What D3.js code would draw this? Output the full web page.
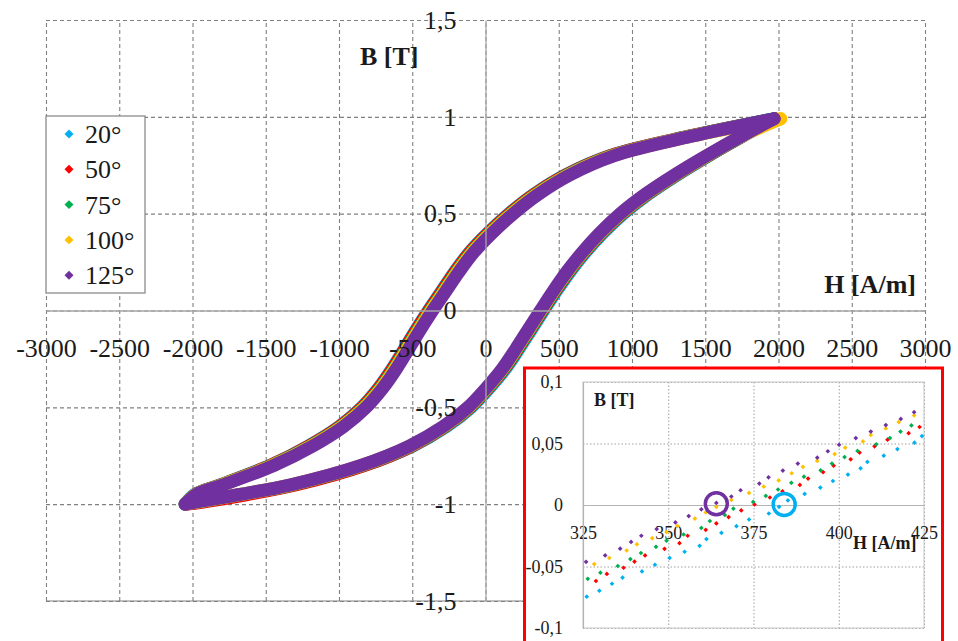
<!DOCTYPE html>
<html>
<head>
<meta charset="utf-8">
<script src="https://cdn.jsdelivr.net/npm/d3@7"></script>
<style>
  body { margin: 0; background: #fff; }
  text { font-family: "Liberation Serif", "DejaVu Serif", serif; fill: #1a1a1a; }
</style>
</head>
<body>
<svg id="chart" width="958" height="641"></svg>
<script>
// series names + colours (Excel palette)
var series = ["20°", "50°", "75°", "100°", "125°"];
var colors = ["#00b0f0", "#ff0000", "#00b050", "#ffc000", "#7030a0"];

// main loop: B levels of the two branches
var bDown = [0.99, 0.9, 0.8, 0.7, 0.6, 0.5, 0.4, 0.3, 0.2, 0.1, 0,
             -0.1, -0.2, -0.3, -0.4, -0.5, -0.6, -0.7, -0.8, -0.9, -0.95, -1.0];
var bUp = [-1.0, -0.99, -0.95, -0.9, -0.8, -0.7, -0.6, -0.5, -0.4, -0.3, -0.2, -0.1, 0,
           0.1, 0.2, 0.3, 0.4, 0.5, 0.6, 0.7, 0.8, 0.9, 0.99];

// H [A/m] of each series at those B levels (falling branch)
var hDown20  = [1970, 1390, 850, 545, 330, 160, 15, -110, -210, -300, -390, -475, -555, -637, -730, -845, -1000, -1210, -1470, -1810, -1985, -2050];
var hDown50  = [1975, 1392, 854, 549, 334, 164, 19, -106, -206, -296, -386, -471, -551, -633, -726, -841, -996, -1206, -1468, -1806, -1982, -2040];
var hDown75  = [1970, 1398, 864, 559, 344, 174, 29, -96, -196, -286, -376, -461, -541, -623, -716, -831, -986, -1196, -1460, -1800, -1980, -2050];
var hDown100 = [2015, 1402, 870, 565, 350, 180, 35, -90, -190, -280, -370, -455, -535, -617, -710, -825, -980, -1190, -1455, -1797, -1978, -2050];
var hDown125 = [1970, 1406, 880, 575, 360, 190, 45, -80, -180, -270, -360, -445, -525, -607, -700, -815, -970, -1180, -1445, -1790, -1975, -2050];

// rising branch
var hUp20  = [-2050, -1972, -1665, -1310, -828, -498, -268, -98, 27, 137, 227, 312, 397, 484, 577, 682, 802, 942, 1110, 1308, 1525, 1755, 1970];
var hUp50  = [-2040, -1940, -1625, -1290, -825, -503, -276, -106, 19, 129, 219, 304, 389, 476, 569, 674, 794, 934, 1103, 1302, 1520, 1752, 1975];
var hUp75  = [-2050, -1975, -1672, -1320, -841, -511, -281, -111, 14, 124, 214, 299, 384, 471, 564, 669, 789, 929, 1098, 1298, 1517, 1750, 1970];
var hUp100 = [-2050, -1978, -1677, -1326, -846, -516, -286, -116, 9, 119, 209, 294, 379, 466, 559, 664, 784, 924, 1094, 1294, 1514, 1748, 2015];
var hUp125 = [-2050, -1980, -1680, -1330, -850, -520, -290, -120, 5, 115, 205, 290, 375, 462, 555, 660, 780, 920, 1090, 1290, 1510, 1745, 1970];

// inset (zoom near B = 0 on the rising branch): [H, B]
var zoom20 = [[326.1,-0.0745],[329.8,-0.0697],[333.5,-0.064],[336.6,-0.059],[342.3,-0.054],[346.1,-0.0486],[350.4,-0.043],[354.8,-0.038],[359.2,-0.0332],[361.2,-0.0277],[365.6,-0.0226],[370,-0.0172],[373.7,-0.0118],[379.5,-0.0069],[382.5,-0.0015],[385.1,0.0037],[390,0.009],[394.6,0.0142],[398.3,0.0195],[402.7,0.0247],[406.4,0.0298],[408.4,0.035],[413.2,0.0401],[417.2,0.0455],[422.2,0.0507],[424.4,0.056]];
var zoom50 = [[328.8,-0.0618],[332,-0.056],[336.9,-0.051],[340.1,-0.046],[343.2,-0.041],[348.9,-0.0356],[353.3,-0.031],[355.7,-0.025],[361,-0.0202],[364.1,-0.015],[367.7,-0.0098],[371.4,-0.0044],[375.3,0.0004],[379.8,0.0061],[383.5,0.0112],[388.6,0.0163],[391,0.0215],[395.4,0.0268],[398.5,0.032],[403.5,0.0371],[406.1,0.0426],[410.5,0.0477],[414.3,0.0531],[420.5,0.0584],[423.7,0.0634]];
var zoom75 = [[326.4,-0.06],[330.1,-0.055],[335.2,-0.0496],[338.9,-0.044],[342,-0.039],[346.4,-0.034],[349.5,-0.029],[354.5,-0.024],[359.7,-0.0186],[362.2,-0.013],[366.6,-0.0081],[369.1,-0.003],[374.9,0.0025],[378.6,0.0074],[382.2,0.0126],[386.1,0.018],[389.8,0.023],[394.7,0.0282],[398,0.0337],[401.7,0.039],[405.5,0.044],[411,0.0493],[415,0.0544],[418.1,0.0597],[421.3,0.0647]];
var zoom100 = [[328.3,-0.048],[332.7,-0.043],[337.8,-0.037],[340.8,-0.032],[345.3,-0.027],[349.5,-0.022],[352.7,-0.017],[357.8,-0.011],[361,-0.006],[364.1,-0.0015],[368.5,0.0041],[373.7,0.0098],[378,0.015],[382.4,0.02],[386.2,0.0258],[389.5,0.031],[393.7,0.0358],[398.8,0.0414],[401.9,0.0466],[407.1,0.0517],[409.4,0.057],[413.8,0.0622],[417.6,0.0674],[422.1,0.0728]];
var zoom125 = [[325.9,-0.0462],[331.5,-0.041],[335.9,-0.0355],[339.1,-0.03],[342.1,-0.025],[346.6,-0.0196],[352.1,-0.0142],[356,-0.009],[359.7,-0.0035],[364.1,0.0017],[368.5,0.0069],[371.2,0.012],[376.7,0.0174],[379.4,0.0225],[383.6,0.028],[388,0.0337],[393.7,0.0385],[396.8,0.0437],[400.1,0.049],[405,0.0544],[409.4,0.0597],[413.8,0.065],[418.2,0.07],[422.1,0.0755]];

// circled zero crossings in the inset: [H, B, series index]
var marked = [[364.1, 0.001, 4], [384, 0.0005, 0]];

// tick labels
var xTicks = [-3000, -2500, -2000, -1500, -1000, -500, 0, 500, 1000, 1500, 2000, 2500, 3000];
var yTicks = [-1.5, -1, -0.5, 0, 0.5, 1, 1.5];
var xTicksZoom = [325, 350, 375, 400, 425];
var yTicksZoom = [-0.1, -0.05, 0, 0.05, 0.1];

var hDown = [hDown20, hDown50, hDown75, hDown100, hDown125];
var hUp = [hUp20, hUp50, hUp75, hUp100, hUp125];
var zoomPts = [zoom20, zoom50, zoom75, zoom100, zoom125];

var comma = function(d) { return String(d).replace(".", ","); };

var svg = d3.select("#chart");
var plot = {left: 46, right: 925, top: 20, bottom: 601};

var x = d3.scaleLinear().domain([-3000, 3000]).range([plot.left, plot.right]);
var y = d3.scaleLinear().domain([-1.5, 1.5]).range([plot.bottom, plot.top]);

// dashed grid
svg.append("g")
  .attr("transform", "translate(0," + plot.bottom + ")")
  .call(d3.axisBottom(x).tickValues(xTicks).tickSize(-(plot.bottom - plot.top)).tickFormat(""))
  .call(function(g) { g.select(".domain").remove(); })
  .selectAll("line").attr("stroke", "#808080").attr("stroke-width", 1.1).attr("stroke-dasharray", "4,3");
svg.append("g")
  .attr("transform", "translate(" + plot.left + ",0)")
  .call(d3.axisLeft(y).tickValues(yTicks).tickSize(-(plot.right - plot.left)).tickFormat(""))
  .call(function(g) { g.select(".domain").remove(); })
  .selectAll("line").attr("stroke", "#808080").attr("stroke-width", 1.1).attr("stroke-dasharray", "4,3");
svg.append("line")
  .attr("x1", plot.left).attr("x2", plot.right)
  .attr("y1", plot.bottom).attr("y2", plot.bottom)
  .attr("stroke", "#808080").attr("stroke-width", 1.2);

// axes through the origin
var xAxis = svg.append("g")
  .attr("transform", "translate(0," + y(0) + ")")
  .call(d3.axisBottom(x).tickValues(xTicks).tickSize(0).tickSizeOuter(0).tickPadding(28).tickFormat(comma));
var yAxis = svg.append("g")
  .attr("transform", "translate(" + x(0) + ",0)")
  .call(d3.axisLeft(y).tickValues(yTicks).tickSize(0).tickSizeOuter(0).tickPadding(29).tickFormat(comma));
[xAxis, yAxis].forEach(function(g) {
  g.select(".domain").attr("stroke", "#a6a6a6").attr("stroke-width", 1.3);
  g.selectAll("text").attr("font-size", 26).attr("font-family", "Liberation Serif").attr("fill", "#1a1a1a");
});

// hysteresis loops
var line = d3.line()
  .x(function(d) { return x(d[0]); })
  .y(function(d) { return y(d[1]); })
  .curve(d3.curveCatmullRom.alpha(0.5));

var loops = svg.append("g");
series.forEach(function(s, i) {
  var down = hDown[i].map(function(h, k) { return [h, bDown[k]]; });
  var up = hUp[i].map(function(h, k) { return [h, bUp[k]]; });
  [down, up].forEach(function(branch) {
    loops.append("path")
      .datum(branch)
      .attr("d", line)
      .attr("fill", "none")
      .attr("stroke", colors[i])
      .attr("stroke-width", 13)
      .attr("stroke-linecap", "round")
      .attr("stroke-linejoin", "round");
  });
});

// bring labels above the loops
svg.node().appendChild(xAxis.node());
svg.node().appendChild(yAxis.node());

// axis titles
svg.append("text").attr("x", 360).attr("y", 65)
  .attr("font-size", 26).attr("font-weight", "bold").text("B [T]");
svg.append("text").attr("x", 916).attr("y", 293).attr("text-anchor", "end")
  .attr("font-size", 26).attr("font-weight", "bold").text("H [A/m]");

// legend
var legend = svg.append("g").attr("transform", "translate(46,116)");
legend.append("rect").attr("width", 99).attr("height", 177)
  .attr("fill", "#fff").attr("stroke", "#8c8c8c").attr("stroke-width", 1.3);
var diamond = d3.symbol().type(d3.symbolSquare);
series.forEach(function(s, i) {
  var row = legend.append("g").attr("transform", "translate(0," + (18 + i * 35.3) + ")");
  row.append("path").attr("d", diamond.size(40)())
    .attr("transform", "translate(23,0) rotate(45)").attr("fill", colors[i]);
  row.append("text").attr("x", 39).attr("y", 9).attr("font-size", 26).text(s);
});

// inset
var inset = svg.append("g");
inset.append("rect").attr("x", 524.5).attr("y", 368).attr("width", 418).attr("height", 300)
  .attr("fill", "#fff").attr("stroke", "#ff0000").attr("stroke-width", 3);

var xi = d3.scaleLinear().domain([325, 425]).range([583, 924]);
var yi = d3.scaleLinear().domain([-0.1, 0.1]).range([628, 382]);

inset.append("g")
  .attr("transform", "translate(0," + yi.range()[1] + ")")
  .call(d3.axisBottom(xi).tickValues(xTicksZoom).tickSize(yi.range()[0] - yi.range()[1]).tickFormat(""))
  .call(function(g) { g.select(".domain").remove(); })
  .selectAll("line").attr("stroke", "#a0a0a0").attr("stroke-dasharray", "1.5,2");
inset.append("g")
  .attr("transform", "translate(" + xi.range()[0] + ",0)")
  .call(d3.axisLeft(yi).tickValues(yTicksZoom).tickSize(-(xi.range()[1] - xi.range()[0])).tickFormat(""))
  .call(function(g) { g.select(".domain").remove(); })
  .selectAll("line").attr("stroke", "#a0a0a0").attr("stroke-dasharray", "1.5,2");
inset.append("rect")
  .attr("x", xi.range()[0]).attr("y", yi.range()[1])
  .attr("width", xi.range()[1] - xi.range()[0]).attr("height", yi.range()[0] - yi.range()[1])
  .attr("fill", "none").attr("stroke", "#c8c8c8").attr("stroke-width", 1);

var xiAxis = inset.append("g")
  .attr("transform", "translate(0," + yi(0) + ")")
  .call(d3.axisBottom(xi).tickValues(xTicksZoom).tickSize(0).tickSizeOuter(0).tickPadding(21).tickFormat(comma));
var yiAxis = inset.append("g")
  .attr("transform", "translate(" + xi.range()[0] + ",0)")
  .call(d3.axisLeft(yi).tickValues(yTicksZoom).tickSize(0).tickSizeOuter(0).tickPadding(20).tickFormat(comma));
[xiAxis, yiAxis].forEach(function(g) {
  g.select(".domain").attr("stroke", "#b4b4b4").attr("stroke-width", 1.2);
  g.selectAll("text").attr("font-size", 18).attr("font-family", "Liberation Serif").attr("fill", "#1a1a1a");
});

var dot = d3.symbol().type(d3.symbolSquare).size(11);
zoomPts.forEach(function(pts, i) {
  inset.append("g").selectAll("path")
    .data(pts)
    .enter().append("path")
    .attr("d", dot)
    .attr("transform", function(d) { return "translate(" + xi(d[0]) + "," + yi(d[1]) + ") rotate(45)"; })
    .attr("fill", colors[i]);
});

inset.selectAll(".mark")
  .data(marked)
  .enter().append("circle")
  .attr("class", "mark")
  .attr("cx", function(d) { return xi(d[0]); })
  .attr("cy", function(d) { return yi(d[1]); })
  .attr("r", 11)
  .attr("fill", "none")
  .attr("stroke", function(d) { return colors[d[2]]; })
  .attr("stroke-width", 3.5);

inset.append("text").attr("x", 594).attr("y", 406)
  .attr("font-size", 18).attr("font-weight", "bold").text("B [T]");
inset.append("text").attr("x", 853).attr("y", 549)
  .attr("font-size", 18).attr("font-weight", "bold").text("H [A/m]");
</script>
</body>
</html>
